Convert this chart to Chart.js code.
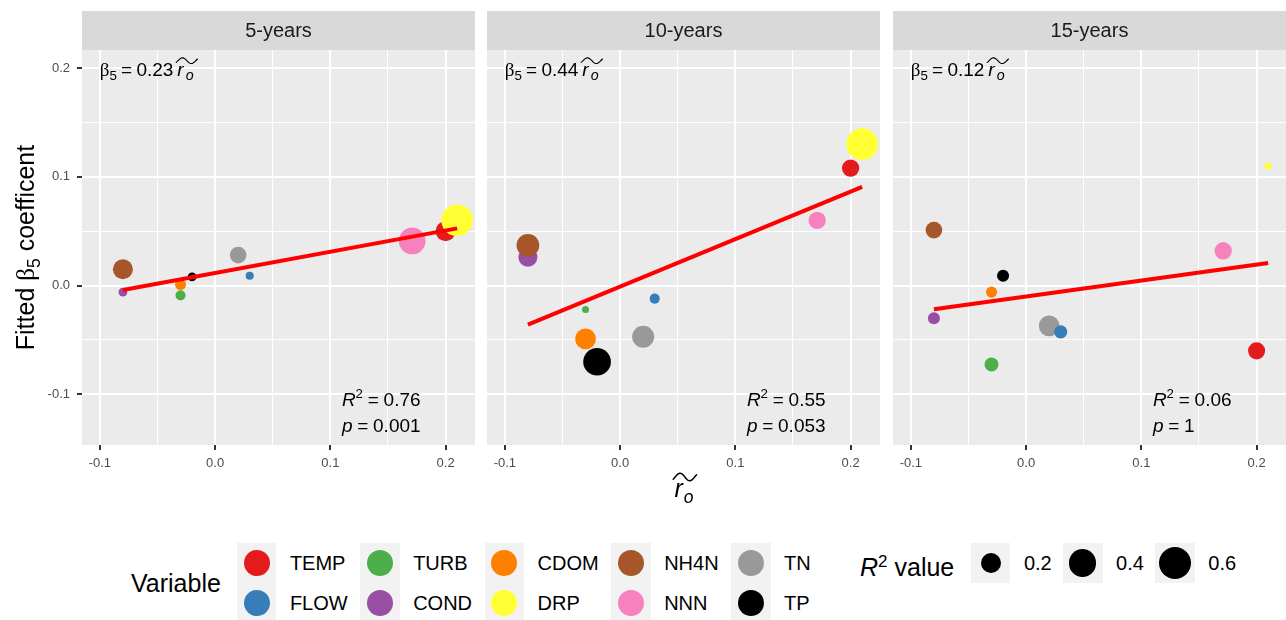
<!DOCTYPE html>
<html>
<head>
<meta charset="utf-8">
<script src="https://cdn.jsdelivr.net/npm/chart.js@4.4.0/dist/chart.umd.min.js"></script>
<style>
html, body { margin:0; padding:0; background:#ffffff; width:1286px; height:620px; overflow:hidden;
  font-family:"Liberation Sans", Arial, Helvetica, sans-serif; }
canvas { position:absolute; top:0; }
.abs { position:absolute; white-space:nowrap; color:#000; }
.keys { position:absolute; display:flex; }
.col { display:flex; flex-direction:column; margin-right:12.6px; }
.row { display:flex; align-items:center; height:40px; }
.key { width:39.4px; height:40px; background:#F2F2F2; display:flex; align-items:center; justify-content:center; }
.dot { border-radius:50%; }
.lab { margin-left:13.5px; font-size:20px; color:#000; }
</style>
</head>
<body>
<canvas id="c0" width="480" height="520" style="left:0px"></canvas>
<canvas id="c1" width="403" height="520" style="left:482px"></canvas>
<canvas id="c2" width="398" height="520" style="left:888px"></canvas>
<div id="legend"></div>
<script>
// ---------------- DATA ----------------
const panelNames = ['5-years', '10-years', '15-years'];
const variables = ['TEMP', 'FLOW', 'TURB', 'COND', 'CDOM', 'DRP', 'NH4N', 'NNN', 'TN', 'TP'];
const varColors = ['#E41A1C', '#377EB8', '#4DAF4A', '#984EA3', '#FF7F00', '#FFFF33', '#A65628', '#F781BF', '#999999', '#000000'];
// x value (r~o) of each variable, same in every panel
const rTildeO = [0.20, 0.03, -0.03, -0.08, -0.03, 0.21, -0.08, 0.171, 0.02, -0.02];
// fitted beta5 coefficient per variable
const beta5_5yr  = [0.050, 0.009, -0.009, -0.006, 0.001, 0.060, 0.015, 0.041, 0.028, 0.008];
const beta5_10yr = [0.108, -0.012, -0.022, 0.026, -0.049, 0.130, 0.037, 0.060, -0.047, -0.070];
const beta5_15yr = [-0.060, -0.0425, -0.0725, -0.030, -0.006, 0.110, 0.051, 0.032, -0.037, 0.009];
// R^2 value per variable (point size)
const r2_5yr  = [0.196, 0.051, 0.058, 0.053, 0.064, 0.578, 0.196, 0.386, 0.131, 0.053];
const r2_10yr = [0.142, 0.058, 0.050, 0.175, 0.212, 0.578, 0.263, 0.142, 0.245, 0.421];
const r2_15yr = [0.137, 0.084, 0.092, 0.072, 0.064, 0.050, 0.131, 0.142, 0.212, 0.072];
// drawing order of points (later = on top)
const drawOrder = ['TEMP', 'DRP', 'TN', 'FLOW', 'TURB', 'COND', 'NH4N', 'CDOM', 'NNN', 'TP'];
// fitted line end points
const fitX = [-0.08, 0.21];
const fit_5yr  = [-0.004, 0.0526];
const fit_10yr = [-0.0358, 0.0908];
const fit_15yr = [-0.0217, 0.0208];
// annotation texts
const slopeLabels = ['0.23', '0.44', '0.12'];
const r2Labels = ['0.76', '0.55', '0.06'];
const pLabels = ['0.001', '0.053', '1'];
// axes
const xRange = [-0.1155, 0.2255];
const yRange = [-0.1465, 0.2165];
const xTicks = [-0.1, 0.0, 0.1, 0.2];
const xTickLabels = ['-0.1', '0.0', '0.1', '0.2'];
const xMinor = [-0.05, 0.05, 0.15];
const yTicks = [-0.1, 0.0, 0.1, 0.2];
const yTickLabels = ['-0.1', '0.0', '0.1', '0.2'];
const yMinor = [-0.05, 0.05, 0.15];
// size legend
const sizeBreaks = [0.2, 0.4, 0.6];
const sizeBreakLabels = ['0.2', '0.4', '0.6'];

// ---------------- STYLE / LAYOUT ----------------
const FONT = '"Liberation Sans", Arial, Helvetica, sans-serif';
const SERIF = '"Liberation Serif", "DejaVu Serif", serif';
const SIZE = { vMin: 0.05, dMin: 7, k: 34 };
function diam(v) { return SIZE.dMin + SIZE.k * Math.sqrt(Math.max(v - SIZE.vMin, 0)); }
const GEOM = [
  { padL: 0, padR: 5, yW: 82, showY: true },
  { padL: 5, padR: 5, yW: 0, showY: false },
  { padL: 5, padR: 0, yW: 0, showY: false }
];
const PAD_TOP = 50, XAXIS_H = 45, PAD_BOTTOM = 30, STRIP_H = 39;
const annotPos = { slope: [-0.1, 0.199], r2: [0.11, -0.104], p: [0.11, -0.1285] };
const ANNOT_SIZE = 19;

const panelData = [
  { beta: beta5_5yr, r2: r2_5yr, fit: fit_5yr },
  { beta: beta5_10yr, r2: r2_10yr, fit: fit_10yr },
  { beta: beta5_15yr, r2: r2_15yr, fit: fit_15yr }
];

function isIn(arr, v) { return arr.some(a => Math.abs(a - v) < 1e-9); }

function richText(ctx, x, y, parts, size, draw = true) {
  let cx = x;
  for (const p of parts) {
    if (p.space) { cx += p.space * size; continue; }
    const s = size * (p.scale || 1);
    ctx.font = (p.italic ? 'italic ' : '') + s + 'px ' + (p.family || FONT);
    if (draw) ctx.fillText(p.t, cx, y + (p.dy || 0) * size);
    cx += ctx.measureText(p.t).width;
  }
  return cx - x;
}
function drawRTildeO(ctx, x, y, size, wide) {
  const parts = [{ t: 'r', italic: true }, { space: wide ? 0.12 : 0.04 }, { t: 'o', italic: true, scale: wide ? 0.75 : 0.7, dy: 0.22 }];
  const w = richText(ctx, x, y, parts, size);
  const x0 = x - 0.05 * size, x1 = x + w + (wide ? 0.2 : 0.12) * size;
  const yc = y - 0.8 * size, h = 0.15 * size;
  ctx.beginPath();
  const n = 40;
  for (let i = 0; i <= n; i++) {
    const t = -0.1 + 1.2 * i / n;
    const px = x0 + (x1 - x0) * i / n;
    const py = yc - h * Math.sin(2 * Math.PI * t);
    if (i === 0) ctx.moveTo(px, py); else ctx.lineTo(px, py);
  }
  ctx.lineWidth = Math.max(1, size * 0.06);
  ctx.strokeStyle = ctx.fillStyle;
  ctx.lineCap = 'round';
  ctx.stroke();
  return w;
}

function makePanelPlugin(pi) {
  return {
    id: 'panel' + pi,
    beforeDraw(chart) {
      const { ctx, chartArea: a } = chart;
      ctx.save();
      ctx.fillStyle = '#EBEBEB';
      ctx.fillRect(a.left, a.top, a.right - a.left, a.bottom - a.top);
      ctx.fillStyle = '#D9D9D9';
      ctx.fillRect(a.left, a.top - STRIP_H, a.right - a.left, STRIP_H);
      ctx.fillStyle = '#1A1A1A';
      ctx.font = '20px ' + FONT;
      ctx.textAlign = 'center';
      ctx.textBaseline = 'middle';
      ctx.fillText(panelNames[pi], (a.left + a.right) / 2, a.top - STRIP_H / 2 + 1);
      ctx.restore();
    },
    afterDatasetsDraw(chart) {
      const { ctx } = chart;
      const xs = chart.scales.x, ys = chart.scales.y;
      ctx.save();
      ctx.fillStyle = '#000000';
      ctx.textAlign = 'left';
      ctx.textBaseline = 'alphabetic';
      const S = ANNOT_SIZE;
      // slope label
      let x = xs.getPixelForValue(annotPos.slope[0]);
      let y = ys.getPixelForValue(annotPos.slope[1]) + 0.36 * S;
      let w = richText(ctx, x, y, [
        { t: '\u03B2', family: SERIF }, { t: '5', scale: 0.7, dy: 0.22 }, { space: 0.22 },
        { t: '=' }, { space: 0.22 }, { t: slopeLabels[pi] }, { space: 0.2 }
      ], S);
      drawRTildeO(ctx, x + w, y, S, true);
      // R2 label
      x = xs.getPixelForValue(annotPos.r2[0]);
      y = ys.getPixelForValue(annotPos.r2[1]) + 0.36 * S;
      richText(ctx, x, y, [
        { t: 'R', italic: true }, { t: '2', scale: 0.7, dy: -0.4 }, { space: 0.25 },
        { t: '=' }, { space: 0.25 }, { t: r2Labels[pi] }
      ], S);
      // p label
      x = xs.getPixelForValue(annotPos.p[0]);
      y = ys.getPixelForValue(annotPos.p[1]) + 0.36 * S;
      richText(ctx, x, y, [
        { t: 'p', italic: true }, { space: 0.25 }, { t: '=' }, { space: 0.25 }, { t: pLabels[pi] }
      ], S);
      ctx.restore();
    },
    afterDraw(chart) {
      const { ctx, chartArea: a } = chart;
      ctx.save();
      ctx.fillStyle = '#000000';
      ctx.textBaseline = 'alphabetic';
      if (pi === 0) {
        // y axis title, rotated
        const S = 25;
        const parts = [{ t: 'Fitted ' }, { t: '\u03B2', family: SERIF }, { t: '5', scale: 0.7, dy: 0.22 }, { t: ' coefficent' }];
        const w = richText(ctx, 0, 0, parts, S, false);
        ctx.translate(34, (a.top + a.bottom) / 2);
        ctx.rotate(-Math.PI / 2);
        richText(ctx, -w / 2, 0, parts, S);
      }
      if (pi === 1) {
        const S = 25;
        ctx.font = 'italic ' + S + 'px ' + FONT;
        const w = ctx.measureText('r').width + 0.7 * ctx.measureText('o').width;
        drawRTildeO(ctx, (a.left + a.right) / 2 - w / 2, 497, S, false);
      }
      ctx.restore();
    }
  };
}

function makeChart(pi) {
  const g = GEOM[pi];
  const pd = panelData[pi];
  const idx = drawOrder.map(n => variables.indexOf(n));
  const pts = idx.map(i => ({ x: rTildeO[i], y: pd.beta[i], r2: pd.r2[i] }));
  const cols = idx.map(i => varColors[i]);
  const majorMinor = (maj, min) => maj.concat(min).sort((a, b) => a - b).map(v => ({ value: v }));
  return new Chart(document.getElementById('c' + pi), {
    type: 'scatter',
    data: {
      datasets: [
        {
          type: 'line', label: 'fit', order: 0, showLine: true,
          data: fitX.map((x, k) => ({ x: x, y: pd.fit[k] })),
          borderColor: '#FF0000', borderWidth: 4, pointRadius: 0, fill: false,
          borderCapStyle: 'butt', tension: 0
        },
        {
          label: 'points', order: 1,
          data: pts,
          backgroundColor: cols,
          borderWidth: 0,
          pointRadius: ctx => diam(ctx.raw ? ctx.raw.r2 : 0) / 2,
          pointHoverRadius: ctx => diam(ctx.raw ? ctx.raw.r2 : 0) / 2
        }
      ]
    },
    options: {
      responsive: false, animation: false, devicePixelRatio: 1,
      events: [],
      layout: { autoPadding: false, padding: { top: PAD_TOP, left: g.padL, right: g.padR, bottom: PAD_BOTTOM } },
      plugins: { legend: { display: false }, tooltip: { enabled: false }, title: { display: false } },
      scales: {
        x: {
          type: 'linear', position: 'bottom', min: xRange[0], max: xRange[1],
          afterBuildTicks: s => { s.ticks = majorMinor(xTicks, xMinor); },
          afterFit: s => { s.height = XAXIS_H; },
          border: { display: false },
          grid: {
            color: '#FFFFFF',
            lineWidth: c => (c.tick && isIn(xTicks, c.tick.value)) ? 2 : 1,
            drawTicks: true, tickLength: 5,
            tickColor: c => (c.tick && isIn(xTicks, c.tick.value)) ? '#333333' : 'rgba(0,0,0,0)',
            tickWidth: 2
          },
          ticks: {
            autoSkip: false, maxRotation: 0, padding: 6, color: '#4D4D4D',
            font: { family: FONT, size: 13 },
            callback: v => { const i = xTicks.findIndex(t => Math.abs(t - v) < 1e-9); return i >= 0 ? xTickLabels[i] : ''; }
          }
        },
        y: {
          type: 'linear', position: 'left', min: yRange[0], max: yRange[1],
          afterBuildTicks: s => { s.ticks = majorMinor(yTicks, yMinor); },
          afterFit: s => { s.width = g.yW; },
          border: { display: false },
          grid: {
            color: '#FFFFFF',
            lineWidth: c => (c.tick && isIn(yTicks, c.tick.value)) ? 2 : 1,
            drawTicks: g.showY, tickLength: 5,
            tickColor: c => (c.tick && isIn(yTicks, c.tick.value)) ? '#333333' : 'rgba(0,0,0,0)',
            tickWidth: 2
          },
          ticks: {
            display: g.showY, autoSkip: false, padding: 7, color: '#4D4D4D',
            font: { family: FONT, size: 13 },
            callback: v => { const i = yTicks.findIndex(t => Math.abs(t - v) < 1e-9); return i >= 0 ? yTickLabels[i] : ''; }
          }
        }
      }
    },
    plugins: [makePanelPlugin(pi)]
  });
}

[0, 1, 2].forEach(makeChart);

// ---------------- LEGEND ----------------
function buildLegend() {
  const L = document.getElementById('legend');
  const t1 = document.createElement('div');
  t1.className = 'abs';
  t1.style.cssText = 'left:131px;top:568px;height:30px;line-height:30px;font-size:25px;';
  t1.textContent = 'Variable';
  L.appendChild(t1);

  const keys = document.createElement('div');
  keys.className = 'keys';
  keys.style.left = '237px'; keys.style.top = '543px';
  for (let c = 0; c < variables.length / 2; c++) {
    const col = document.createElement('div');
    col.className = 'col';
    for (let r = 0; r < 2; r++) {
      const i = c * 2 + r;
      const row = document.createElement('div');
      row.className = 'row';
      const key = document.createElement('div');
      key.className = 'key';
      const dot = document.createElement('div');
      dot.className = 'dot';
      dot.style.cssText = 'width:26px;height:26px;background:' + varColors[i] + ';';
      key.appendChild(dot);
      const lab = document.createElement('span');
      lab.className = 'lab';
      lab.textContent = variables[i];
      row.appendChild(key); row.appendChild(lab);
      col.appendChild(row);
    }
    keys.appendChild(col);
  }
  L.appendChild(keys);

  const t2 = document.createElement('div');
  t2.className = 'abs';
  t2.style.cssText = 'left:860px;top:552px;height:30px;line-height:30px;font-size:25px;';
  t2.innerHTML = '<i>R</i><sup style="font-size:17px;vertical-align:9px;line-height:0">2</sup> value';
  L.appendChild(t2);

  const sk = document.createElement('div');
  sk.className = 'keys';
  sk.style.left = '971px'; sk.style.top = '543px';
  sizeBreaks.forEach((v, k) => {
    const row = document.createElement('div');
    row.className = 'row';
    row.style.marginRight = '11.5px';
    const key = document.createElement('div');
    key.className = 'key';
    const d = diam(v);
    const dot = document.createElement('div');
    dot.className = 'dot';
    dot.style.cssText = 'width:' + d + 'px;height:' + d + 'px;background:#000;';
    key.appendChild(dot);
    const lab = document.createElement('span');
    lab.className = 'lab';
    lab.textContent = sizeBreakLabels[k];
    row.appendChild(key); row.appendChild(lab);
    sk.appendChild(row);
  });
  L.appendChild(sk);
}
buildLegend();
</script>
</body>
</html>
